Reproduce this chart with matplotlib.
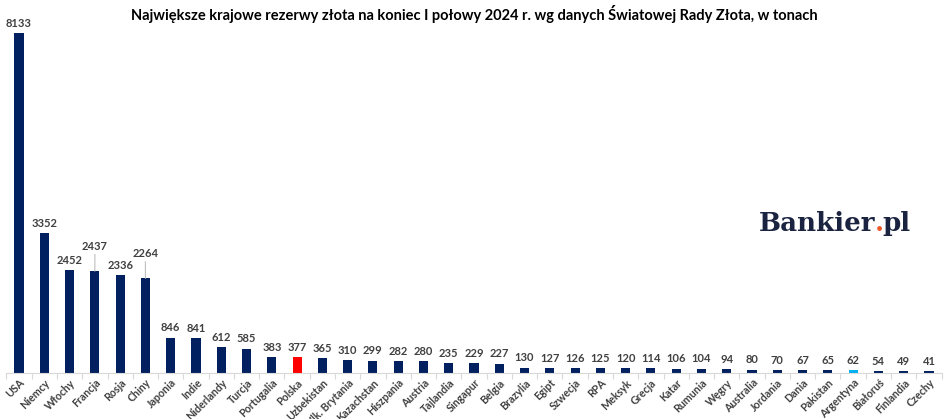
import matplotlib.pyplot as plt
import numpy as np

kraje = ["USA", "Niemcy", "Włochy", "Francja", "Rosja", "Chiny", "Japonia", "Indie",
         "Niderlandy", "Turcja", "Portugalia", "Polska", "Uzbekistan", "Wlk. Brytania",
         "Kazachstan", "Hiszpania", "Austria", "Tajlandia", "Singapur", "Belgia",
         "Brazylia", "Egipt", "Szwecja", "RPA", "Meksyk", "Grecja", "Katar", "Rumunia",
         "Węgry", "Australia", "Jordania", "Dania", "Pakistan", "Argentyna", "Białoruś",
         "Finlandia", "Czechy"]
rezerwy = [8133, 3352, 2452, 2437, 2336, 2264, 846, 841, 612, 585, 383, 377, 365, 310,
           299, 282, 280, 235, 229, 227, 130, 127, 126, 125, 120, 114, 106, 104, 94, 80,
           70, 67, 65, 62, 54, 49, 41]

plt.rcParams['font.family'] = ['Lato', 'DejaVu Sans']

kolory = []
for k in kraje:
    if k == "Polska":
        kolory.append("#FF0000")
    elif k == "Argentyna":
        kolory.append("#00B0F0")
    else:
        kolory.append("#002060")

fig = plt.figure(figsize=(9.48, 4.19), dpi=100)
ax = fig.add_axes([6.4 / 948, 46 / 419, 935.2 / 948, 343 / 419])

x = np.arange(len(kraje))
ax.bar(x, rezerwy, width=0.36, color=kolory, zorder=2)

ax.set_xlim(-0.5, len(kraje) - 0.5)
ax.set_ylim(0, 8133 * 343 / 340)

# etykiety wartosci (Francja i Chiny przesuniete w gore z linia)
przesuniecie = {"Francja": 14, "Chiny": 14}
for i, (k, v) in enumerate(zip(kraje, rezerwy)):
    dy = przesuniecie.get(k, 0)
    if dy:
        ax.annotate(f"{v}", xy=(i, v), xytext=(0, dy), textcoords="offset points",
                    ha="center", va="bottom", fontsize=8, fontweight="bold", color="#404040",
                    arrowprops=dict(arrowstyle="-", color="#BFBFBF", lw=0.8,
                                    shrinkA=0, shrinkB=0))
    else:
        ax.annotate(f"{v}", xy=(i, v), xytext=(0, 3), textcoords="offset points",
                    ha="center", va="bottom", fontsize=8, fontweight="bold", color="#404040")

ax.set_xticks(x)
ax.set_xticklabels(kraje, rotation=45, ha="right", rotation_mode="anchor",
                   fontsize=7.7, fontweight="bold", color="#404040")
ax.tick_params(axis="x", length=0, pad=3)
ax.set_xticks(np.arange(-0.5, len(kraje), 1), minor=True)
ax.tick_params(axis="x", which="minor", length=4, color="#D9D9D9", width=0.8)
ax.set_yticks([])

for s in ["top", "right", "left"]:
    ax.spines[s].set_visible(False)
ax.spines["bottom"].set_color("#D9D9D9")
ax.spines["bottom"].set_linewidth(0.8)

fig.text(0.5, 1 - 14 / 419, "Największe krajowe rezerwy złota na koniec I połowy 2024 r. wg danych Światowej Rady Złota, w tonach",
         ha="center", va="center", fontsize=10.5, fontweight="bold", color="#000000")

# logo Bankier.pl
renderer = fig.canvas.get_renderer()
logo_y = 1 - 231 / 419
rozmiar = 18.8
t1 = fig.text(759 / 948, logo_y, "Bankier", fontsize=rozmiar, fontweight="bold",
              family="DejaVu Serif", color="#1A2340", va="baseline")
bb = t1.get_window_extent(renderer)
t2 = fig.text((bb.x1 - 1) / fig.bbox.width, logo_y, ".", fontsize=rozmiar, fontweight="bold",
              family="DejaVu Serif", color="#F05A28", va="baseline")
bb2 = t2.get_window_extent(renderer)
fig.text((bb2.x1 - 1) / fig.bbox.width, logo_y, "pl", fontsize=rozmiar, fontweight="bold",
         family="DejaVu Serif", color="#1A2340", va="baseline")

fig.savefig("out.png", dpi=100)
